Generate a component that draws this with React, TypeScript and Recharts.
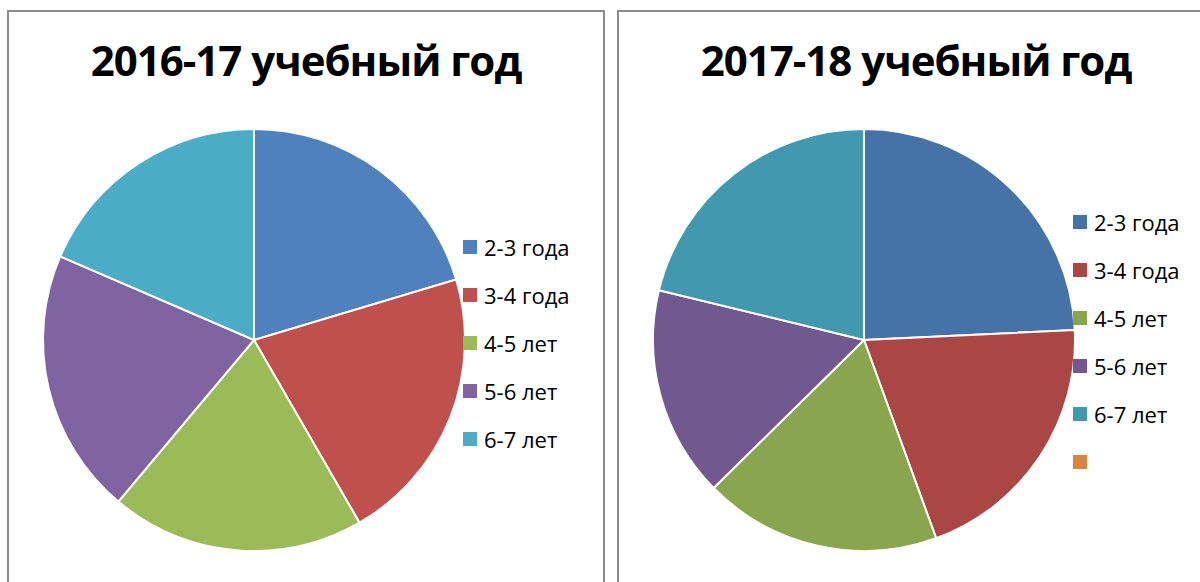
import { PieChart, Pie, Cell } from "recharts";

const AGE_GROUPS = ["2-3 года", "3-4 года", "4-5 лет", "5-6 лет", "6-7 лет"];
const VALUES_2016 = [22, 23, 21, 22, 20];
const VALUES_2017 = [24, 20, 18, 16, 21, 0];
const LABELS_2017 = [...AGE_GROUPS, ""];

const COLORS_2016 = ["#4F81BD", "#C0504D", "#9BBB59", "#8064A2", "#4BACC6"];
const COLORS_2017 = ["#4572A7", "#AA4643", "#89A54E", "#71588F", "#4198AF", "#DB843D"];

const FONT = "'Open Sans', 'Noto Sans', sans-serif";

type PanelProps = {
  title: string;
  labels: string[];
  values: number[];
  colors: string[];
  left: number;
  legendTop: number;
};

function Panel({ title, labels, values, colors, left, legendTop }: PanelProps) {
  const data = labels.map((name, i) => ({ name, value: values[i] }));
  return (
    <div
      style={{
        position: "absolute",
        left,
        top: 10,
        width: 598,
        height: 600,
        border: "2px solid #8c8c8c",
        boxSizing: "border-box",
        background: "#fff",
      }}
    >
      <div
        style={{
          position: "absolute",
          left: 0,
          top: 18,
          width: 594,
          textAlign: "center",
          fontFamily: FONT,
          fontWeight: 700,
          fontSize: 42,
          letterSpacing: -1,
          color: "#000",
          lineHeight: "60px",
        }}
      >
        {title}
      </div>
      <div style={{ position: "absolute", left: 0, top: 0 }}>
        <PieChart width={594} height={570} margin={{ top: 0, right: 0, bottom: 0, left: 0 }}>
          <Pie
            data={data}
            dataKey="value"
            nameKey="name"
            cx={245}
            cy={328}
            outerRadius={211}
            startAngle={90}
            endAngle={-270}
            stroke="#fff"
            strokeWidth={2}
            isAnimationActive={false}
          >
            {data.map((_, i) => (
              <Cell key={i} fill={colors[i]} />
            ))}
          </Pie>
        </PieChart>
      </div>
      <div style={{ position: "absolute", left: 454, top: legendTop }}>
        {labels.map((name, i) => (
          <div
            key={i}
            style={{
              display: "flex",
              alignItems: "center",
              height: 48,
              fontFamily: FONT,
              fontSize: 22,
              color: "#000",
            }}
          >
            <span
              style={{
                display: "inline-block",
                width: 14,
                height: 14,
                background: colors[i],
                marginRight: 7,
              }}
            />
            {name}
          </div>
        ))}
      </div>
    </div>
  );
}

export default function App() {
  return (
    <div
      style={{
        position: "absolute",
        left: 0,
        top: 0,
        width: 1200,
        height: 582,
        overflow: "hidden",
        background: "#fff",
      }}
    >
      <Panel
        title="2016-17 учебный год"
        labels={AGE_GROUPS}
        values={VALUES_2016}
        colors={COLORS_2016}
        left={7}
        legendTop={211}
      />
      <Panel
        title="2017-18 учебный год"
        labels={LABELS_2017}
        values={VALUES_2017}
        colors={COLORS_2017}
        left={617}
        legendTop={186}
      />
    </div>
  );
}
